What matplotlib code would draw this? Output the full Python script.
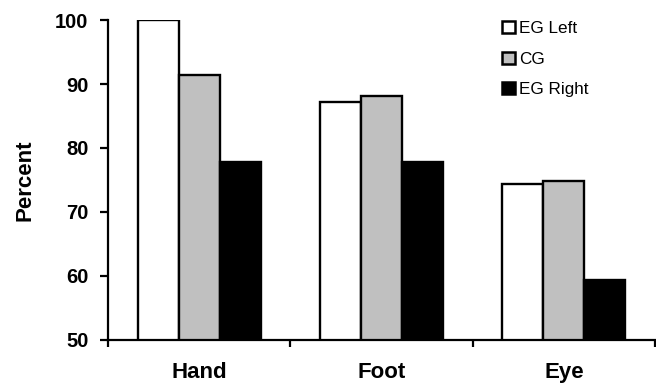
import numpy as np
import matplotlib.pyplot as plt
from matplotlib.patches import Patch

plt.rcParams['font.family'] = ['Liberation Sans', 'DejaVu Sans']

categories = ["Hand", "Foot", "Eye"]
eg_left = [100.0, 87.2, 74.4]
cg = [91.4, 88.1, 74.8]
eg_right = [77.8, 77.8, 59.4]

series = [("EG Left", eg_left, "white"),
          ("CG", cg, "#c0c0c0"),
          ("EG Right", eg_right, "black")]

fig = plt.figure(figsize=(6.56, 3.85), dpi=100)
ax = fig.add_axes([0.1646, 0.117, 0.834, 0.831])

x = np.arange(len(categories)) + 0.5
w = 0.225
for i, (name, vals, col) in enumerate(series):
    ax.bar(x + (i - 1) * w, vals, w, bottom=0, color=col,
           edgecolor="black", linewidth=1.7, zorder=2)

ax.set_ylim(50, 100)
ax.set_xlim(0, 3)
ax.set_yticks([50, 60, 70, 80, 90, 100])
ax.set_xticks([0, 1, 2, 3])
ax.set_xticklabels([])
ax.set_xticks(x, minor=True)
ax.set_xticklabels(categories, minor=True, fontsize=16, fontweight="bold")
ax.tick_params(axis="x", which="minor", length=0, pad=16)
ax.tick_params(axis="x", which="major", length=5, width=1.6, direction="out")
ax.tick_params(axis="y", length=5.5, width=1.6, direction="out", pad=8.5,
               labelsize=14.5)
for lab in ax.get_yticklabels():
    lab.set_fontweight("bold")

ax.spines["top"].set_visible(False)
ax.spines["right"].set_visible(False)
ax.spines["left"].set_linewidth(1.6)
ax.spines["bottom"].set_linewidth(1.6)

ax.set_ylabel("Percent", fontsize=16, fontweight="bold", labelpad=14)

handles = [Patch(facecolor=c, edgecolor="black", linewidth=1.8, label=n)
           for n, v, c in series]
fig.legend(handles=handles, loc="upper left",
           bbox_to_anchor=(502 / 656, 1 - 21 / 385),
           frameon=False, fontsize=12.3, handlelength=0.74, handleheight=0.74,
           handletextpad=0.25, labelspacing=0.9, borderpad=0,
           borderaxespad=0)

fig.savefig("out.png", dpi=100)
